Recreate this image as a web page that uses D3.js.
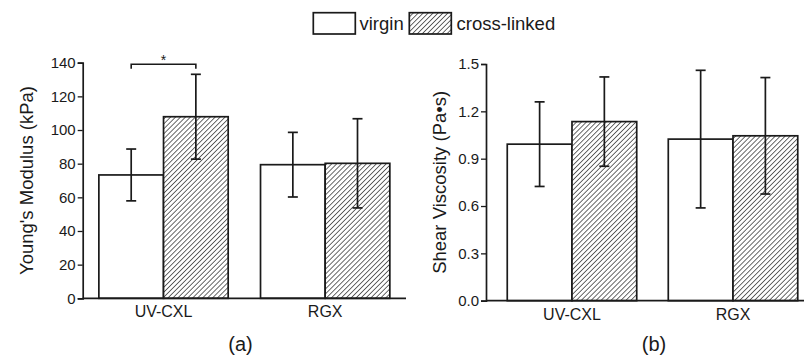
<!DOCTYPE html>
<html>
<head>
<meta charset="utf-8">
<script src="https://cdn.jsdelivr.net/npm/d3@7"></script>
<style>
  html, body { margin: 0; padding: 0; background: #fff; }
  svg { display: block; }
  text { font-family: "Liberation Sans", Arial, sans-serif; fill: #1a1a1a; }
</style>
</head>
<body>
<svg id="chart" width="804" height="356"></svg>
<script>
// ---- Data ----
const categories = ["UV-CXL", "RGX"];
const seriesNames = ["virgin", "cross-linked"];

const modulusVirgin = [73.3, 79.4];
const modulusVirginErr = [15.4, 19.2];
const modulusCross = [107.9, 80.2];
const modulusCrossErr = [25.2, 26.5];

const viscosityVirgin = [0.992, 1.024];
const viscosityVirginErr = [0.268, 0.436];
const viscosityCross = [1.135, 1.045];
const viscosityCrossErr = [0.283, 0.369];

const modulusTicks = [0, 20, 40, 60, 80, 100, 120, 140];
const viscosityTicks = [0, 0.3, 0.6, 0.9, 1.2, 1.5];

const panelLabels = ["(a)", "(b)"];
const yTitles = ["Young's Modulus (kPa)", "Shear Viscosity (Pa\u2022s)"];

// ---- Drawing ----
const svg = d3.select("#chart");
const ink = "#1a1a1a";

const defs = svg.append("defs");
const hs = 3.5;
const pat = defs.append("pattern")
  .attr("id", "hatch")
  .attr("patternUnits", "userSpaceOnUse")
  .attr("width", hs).attr("height", hs)
  .attr("patternTransform", "rotate(45)");
pat.append("rect").attr("width", hs).attr("height", hs).attr("fill", "#fff");
pat.append("line")
  .attr("x1", 0).attr("y1", 0).attr("x2", 0).attr("y2", hs)
  .attr("stroke", ink).attr("stroke-width", 1.3);

const fills = ["#fff", "url(#hatch)"];

function panel(opts) {
  const g = svg.append("g");
  const x0 = d3.scaleBand().domain(categories)
    .range([opts.left, opts.right])
    .paddingInner(opts.padInner).paddingOuter(opts.padOuter);
  const x1 = d3.scaleBand().domain(seriesNames).range([0, x0.bandwidth()]);
  const y = d3.scaleLinear().domain([0, opts.max]).range([opts.bottom, opts.top]);

  const series = [
    { name: seriesNames[0], vals: opts.v0, errs: opts.e0, fill: fills[0] },
    { name: seriesNames[1], vals: opts.v1, errs: opts.e1, fill: fills[1] }
  ];

  // bars
  series.forEach(s => {
    g.selectAll(null).data(categories).enter().append("rect")
      .attr("x", c => x0(c) + x1(s.name))
      .attr("y", (c, i) => y(s.vals[i]))
      .attr("width", x1.bandwidth())
      .attr("height", (c, i) => y(0) - y(s.vals[i]))
      .attr("fill", s.fill)
      .attr("stroke", ink).attr("stroke-width", 1.7);
  });

  // error bars
  const cap = 5;
  series.forEach(s => {
    categories.forEach((c, i) => {
      const cx = x0(c) + x1(s.name) + x1.bandwidth() / 2;
      const hi = y(s.vals[i] + s.errs[i]);
      const lo = y(s.vals[i] - s.errs[i]);
      g.append("line").attr("x1", cx).attr("x2", cx).attr("y1", hi).attr("y2", lo)
        .attr("stroke", ink).attr("stroke-width", 1.7);
      [hi, lo].forEach(yy => g.append("line")
        .attr("x1", cx - cap).attr("x2", cx + cap).attr("y1", yy).attr("y2", yy)
        .attr("stroke", ink).attr("stroke-width", 1.7));
    });
  });

  // y axis
  const yAxis = g.append("g").attr("transform", `translate(${opts.left},0)`)
    .call(d3.axisLeft(y).tickValues(opts.ticks).tickFormat(opts.fmt).tickSize(5).tickPadding(2));
  yAxis.select(".domain").attr("stroke", ink).attr("stroke-width", 1.7);
  yAxis.selectAll(".tick line").attr("stroke", ink).attr("stroke-width", 1.3);
  yAxis.selectAll(".tick text").attr("font-size", 15).attr("fill", ink)
    .style("font-family", "'Liberation Sans', Arial, sans-serif");

  // x axis baseline
  g.append("line").attr("x1", opts.left).attr("x2", opts.axisEnd)
    .attr("y1", y(0)).attr("y2", y(0)).attr("stroke", ink).attr("stroke-width", 1.7);

  // category labels
  g.selectAll(null).data(categories).enter().append("text")
    .attr("x", c => x0(c) + x0.bandwidth() / 2)
    .attr("y", y(0) + 19)
    .attr("text-anchor", "middle").attr("font-size", 16)
    .text(c => c);

  // y title
  g.append("text")
    .attr("transform", `translate(${opts.titleX},${(opts.top + opts.bottom) / 2}) rotate(-90)`)
    .attr("text-anchor", "middle").attr("font-size", 18.5)
    .text(opts.title);

  // panel label
  g.append("text")
    .attr("x", opts.labelX).attr("y", 351)
    .attr("text-anchor", "middle").attr("font-size", 20)
    .text(opts.label);

  return { g, x0, x1, y };
}

const pA = panel({
  left: 82.7, right: 406, axisEnd: 406, top: 62.7, bottom: 298.3, max: 140,
  padInner: 0.2, padOuter: 0.1,
  v0: modulusVirgin, e0: modulusVirginErr, v1: modulusCross, e1: modulusCrossErr,
  ticks: modulusTicks, fmt: d3.format("d"),
  title: yTitles[0], titleX: 32.5, label: panelLabels[0], labelX: 240.5
});

const pB = panel({
  left: 486, right: 819, axisEnd: 819, top: 64, bottom: 300.7, max: 1.5,
  padInner: 0.196, padOuter: 0.132,
  v0: viscosityVirgin, e0: viscosityVirginErr, v1: viscosityCross, e1: viscosityCrossErr,
  ticks: viscosityTicks, fmt: d3.format(".1f"),
  title: yTitles[1], titleX: 446, label: panelLabels[1], labelX: 654
});

// significance bracket on panel (a)
{
  const c = categories[0];
  const xa = pA.x0(c) + pA.x1(seriesNames[0]) + pA.x1.bandwidth() / 2;
  const xb = pA.x0(c) + pA.x1(seriesNames[1]) + pA.x1.bandwidth() / 2;
  const yb = 64.3;
  pA.g.append("path")
    .attr("d", `M${xa},${yb + 4.5}V${yb}H${xb}V${yb + 4.5}`)
    .attr("fill", "none").attr("stroke", ink).attr("stroke-width", 1.6);
  pA.g.append("text").attr("x", (xa + xb) / 2).attr("y", yb + 0.5)
    .attr("text-anchor", "middle").attr("font-size", 14).text("*");
}

// legend
const legend = svg.append("g");
const legendItems = [
  { name: seriesNames[0], fill: fills[0], bx: 313.3, tx: 359.5 },
  { name: seriesNames[1], fill: fills[1], bx: 409.3, tx: 456.5 }
];
legendItems.forEach(d => {
  legend.append("rect").attr("x", d.bx).attr("y", 12.7).attr("width", 42).attr("height", 21.3)
    .attr("fill", d.fill).attr("stroke", ink).attr("stroke-width", 1.7);
  legend.append("text").attr("x", d.tx).attr("y", 30).attr("font-size", 18.5).text(d.name);
});
</script>
</body>
</html>
